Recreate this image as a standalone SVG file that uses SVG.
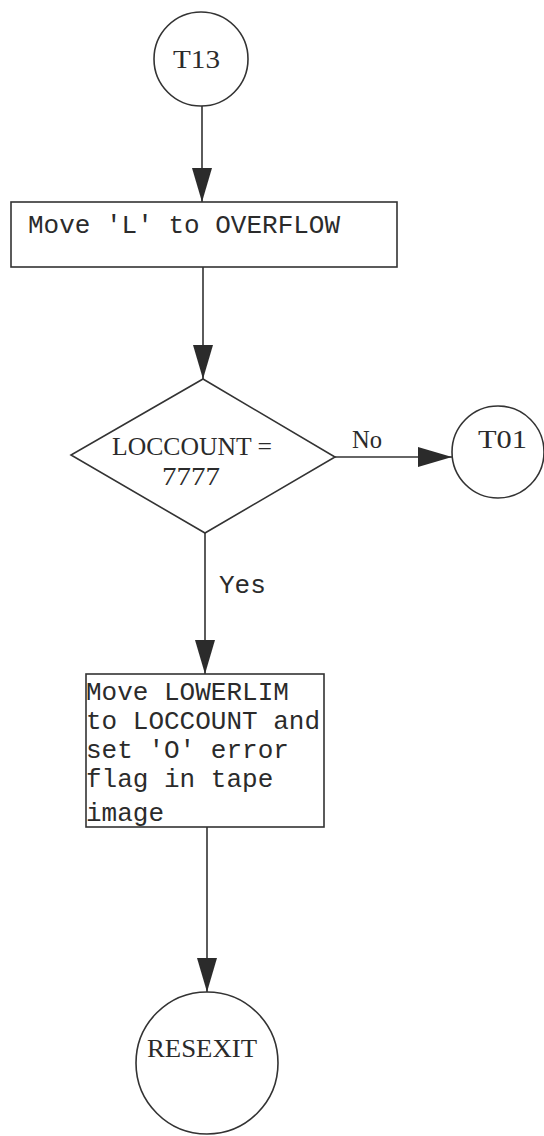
<svg xmlns="http://www.w3.org/2000/svg" width="544" height="1136" viewBox="0 0 544 1136">
<style>
.shape{fill:none;stroke:#333;stroke-width:1.6}
.conn{fill:none;stroke:#333;stroke-width:1.6}
.mono{font-family:"Liberation Mono","DejaVu Sans Mono",monospace;font-size:26px;fill:#2b2b2b}
.serif{font-family:"Liberation Serif","DejaVu Serif",serif;font-size:26px;fill:#2b2b2b}
</style>
<defs>
<marker id="arr" markerUnits="userSpaceOnUse" markerWidth="36" markerHeight="22" refX="34" refY="11" orient="auto">
<path d="M0,1 L34,11 L0,21 z" fill="#2b2b2b"/>
</marker>
</defs>
<rect width="544" height="1136" fill="#fff"/>
<g id="connectors">
<line class="conn" x1="202" y1="106" x2="202" y2="202" marker-end="url(#arr)"/>
<line class="conn" x1="203" y1="267" x2="203" y2="379" marker-end="url(#arr)"/>
<line class="conn" x1="335" y1="457" x2="452" y2="457" marker-end="url(#arr)"/>
<line class="conn" x1="205" y1="533" x2="205" y2="674" marker-end="url(#arr)"/>
<line class="conn" x1="207" y1="827" x2="207" y2="992" marker-end="url(#arr)"/>
<text class="serif" x="352" y="448" textLength="30" lengthAdjust="spacingAndGlyphs">No</text>
<text class="mono" x="219" y="593">Yes</text>
</g>
<g id="T13">
<circle class="shape" cx="201" cy="59" r="47"/>
<text class="serif" x="173" y="68" textLength="47" lengthAdjust="spacingAndGlyphs">T13</text>
</g>
<g id="move-L">
<rect class="shape" x="11" y="202" width="386" height="65"/>
<text class="mono" x="28" y="233">Move 'L' to OVERFLOW</text>
</g>
<g id="decision">
<polygon class="shape" points="203,379 335,457 205,533 71,455"/>
<text class="serif" x="112" y="455" textLength="160" lengthAdjust="spacingAndGlyphs">LOCCOUNT =</text>
<text class="serif" x="162" y="485" textLength="58" lengthAdjust="spacingAndGlyphs">7777</text>
</g>
<g id="T01">
<circle class="shape" cx="498" cy="452" r="46"/>
<text class="serif" x="478" y="448" textLength="49" lengthAdjust="spacingAndGlyphs">T01</text>
</g>
<g id="move-lowerlim">
<rect class="shape" x="86" y="674" width="238" height="153"/>
<text class="mono" x="86" y="700">Move LOWERLIM</text>
<text class="mono" x="86" y="729">to LOCCOUNT and</text>
<text class="mono" x="86" y="758">set 'O' error</text>
<text class="mono" x="86" y="787">flag in tape</text>
<text class="mono" x="86" y="821">image</text>
</g>
<g id="RESEXIT">
<circle class="shape" cx="207" cy="1063" r="71"/>
<text class="serif" x="147" y="1057" textLength="110" lengthAdjust="spacingAndGlyphs">RESEXIT</text>
</g>
</svg>
